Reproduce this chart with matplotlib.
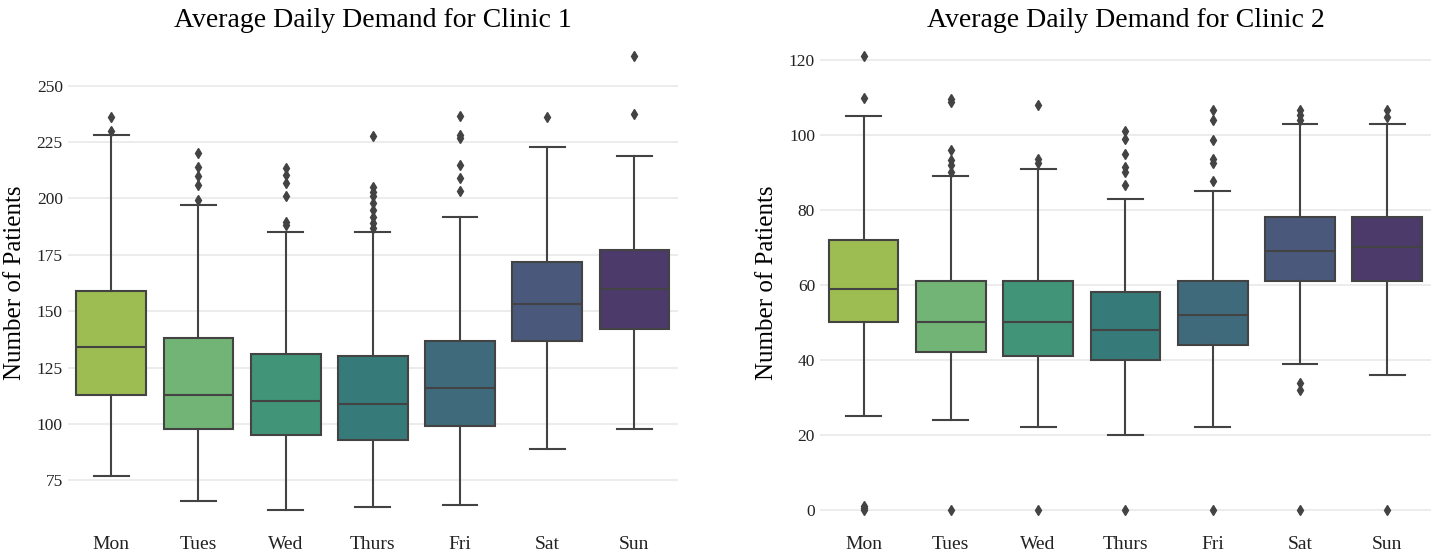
import matplotlib
matplotlib.use("Agg")
import matplotlib.pyplot as plt
import seaborn as sns

days = ['Mon', 'Tues', 'Wed', 'Thurs', 'Fri', 'Sat', 'Sun']

# Clinic 1 box stats
c1_low = [77, 66, 62, 63, 64, 89, 98]
c1_q1 = [113, 98, 95, 93, 99, 137, 142]
c1_med = [134, 113, 110, 109, 116, 153, 160]
c1_q3 = [159, 138, 131, 130, 137, 172, 177]
c1_high = [228, 197, 185, 185, 192, 223, 219]
c1_out = [
    [230, 236],
    [199.5, 206, 210, 214, 220],
    [188.3, 189.7, 201, 206.8, 210.5, 213.4],
    [186.8, 189, 192, 195, 198, 201, 203, 205.3, 227.5],
    [203.4, 209.3, 214.9, 226.8, 228.2, 236.7],
    [236],
    [237.6, 263],
]

# Clinic 2 box stats
c2_low = [25, 24, 22, 20, 22, 39, 36]
c2_q1 = [50, 42, 41, 40, 44, 61, 61]
c2_med = [59, 50, 50, 48, 52, 69, 70]
c2_q3 = [72, 61, 61, 58, 61, 78, 78]
c2_high = [105, 89, 91, 83, 85, 103, 103]
c2_out = [
    [0, 0.5, 1, 110, 121],
    [0, 90.2, 92, 93.3, 96, 108.9, 109.6],
    [0, 92.6, 93.5, 108],
    [0, 86.7, 90.2, 91.4, 95, 99, 101],
    [0, 87.7, 92.6, 93.5, 98.8, 104, 106.8],
    [0, 32, 33.8, 104, 105.3, 106.8],
    [0, 104.7, 106.8],
]

plt.rcParams['font.family'] = ['Liberation Serif', 'DejaVu Serif']
line_col = '#434343'
palette = sns.color_palette('viridis_r', len(days))
palette = [sns.desaturate(c, 0.62) for c in palette]

fig = plt.figure(figsize=(14.41, 5.55), dpi=100)
ax1 = fig.add_axes([0.047, 0.041, 0.4235, 0.898])
ax2 = fig.add_axes([0.569, 0.041, 0.424, 0.898])


def draw(ax, low, q1, med, q3, high, out, title):
    stats = []
    for i in range(len(days)):
        stats.append({'whislo': low[i], 'q1': q1[i], 'med': med[i], 'q3': q3[i],
                      'whishi': high[i], 'fliers': out[i], 'label': days[i]})
    bp = ax.bxp(stats, positions=range(len(days)), widths=0.8, patch_artist=True,
                boxprops=dict(edgecolor=line_col, linewidth=1.5),
                medianprops=dict(color=line_col, linewidth=1.5),
                whiskerprops=dict(color=line_col, linewidth=1.5),
                capprops=dict(color=line_col, linewidth=1.5),
                flierprops=dict(marker='d', markerfacecolor=line_col, markeredgecolor=line_col,
                                markersize=5))
    for patch, c in zip(bp['boxes'], palette):
        patch.set_facecolor(c)
    for cap in bp['caps']:
        x0, x1 = cap.get_xdata()
        mid = (x0 + x1) / 2
        cap.set_xdata([mid - 0.2, mid + 0.2])
    ax.set_xlim(-0.5, len(days) - 0.5)
    ax.set_title(title, fontsize=20, pad=5)
    ax.set_ylabel('Number of Patients', fontsize=18, labelpad=8)
    ax.yaxis.grid(True, color='#e9e9e9', linewidth=1.2)
    ax.set_axisbelow(True)
    for s in ax.spines.values():
        s.set_visible(False)
    ax.tick_params(axis='both', length=0, labelsize=12.5, colors='#222222')
    ax.tick_params(axis='x', labelsize=14, pad=3)


draw(ax1, c1_low, c1_q1, c1_med, c1_q3, c1_high, c1_out, 'Average Daily Demand for Clinic 1')
ax1.set_ylim(52, 273)
ax1.set_yticks([75, 100, 125, 150, 175, 200, 225, 250])

draw(ax2, c2_low, c2_q1, c2_med, c2_q3, c2_high, c2_out, 'Average Daily Demand for Clinic 2')
ax2.set_ylim(-6, 127)
ax2.set_yticks([0, 20, 40, 60, 80, 100, 120])

fig.savefig('out.png', dpi=100)
